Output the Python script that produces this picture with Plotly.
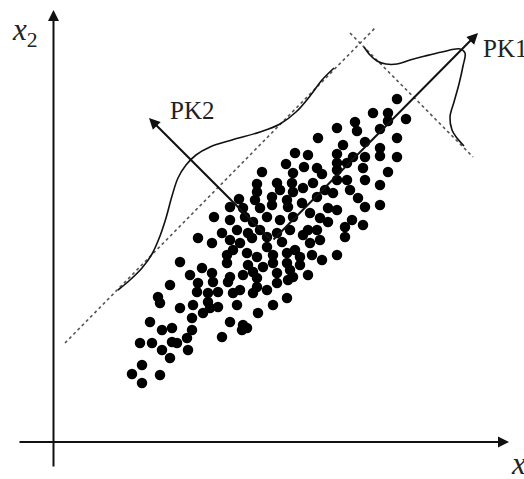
import plotly.graph_objects as go

# Scatter points (pixel-space coordinates; y grows downward)
dot_x1 = [397, 373, 388, 388, 406, 337, 355, 357, 380, 318, 343, 365, 397, 295, 308, 337, 353, 365, 380, 380,
          397, 286, 304, 317, 337, 347, 262, 293, 322, 337, 363, 388, 257, 277, 292, 313, 337, 347, 365, 380,
          257, 280, 293, 303, 325, 350, 358, 239, 255, 272, 287, 317, 333, 380, 230, 243, 260, 272, 288, 302,
          328, 365, 214, 230, 245, 253, 267, 280, 293, 310, 320, 337, 352, 363, 222, 237, 248, 260, 267, 277,
          290, 308, 317, 328, 345, 198, 212, 230, 240, 252, 267, 282, 303, 310, 320, 345, 227, 233, 247, 257,
          273, 287, 295, 300, 312, 322, 337, 180, 202, 227, 248, 263, 273, 287, 290, 300, 190, 212, 230, 243,
          253, 257, 277, 293, 308, 170, 198, 213, 228, 240, 257, 277, 288, 158, 197, 208, 218, 233, 253, 267,
          160, 180, 193, 208, 210, 218, 237, 273, 287, 258, 150, 192, 203, 230, 243, 247, 162, 172, 192, 222,
          242, 140, 152, 172, 177, 187, 162, 188, 170, 142, 132, 160, 142]
dot_x2 = [99, 113, 113, 121, 119, 128, 122, 131, 129, 138, 145, 142, 138, 153, 155, 154, 157, 157, 148, 156,
          157, 164, 167, 168, 163, 163, 172, 173, 174, 170, 168, 172, 184, 183, 183, 183, 180, 180, 180, 185,
          192, 190, 192, 188, 190, 190, 198, 199, 200, 197, 200, 197, 193, 205, 207, 208, 208, 205, 207, 203,
          208, 207, 217, 220, 217, 222, 217, 220, 217, 213, 218, 210, 220, 225, 233, 230, 233, 230, 237, 233,
          230, 230, 230, 222, 227, 238, 243, 240, 243, 238, 247, 242, 235, 243, 240, 237, 255, 250, 253, 257,
          255, 253, 250, 257, 255, 260, 255, 262, 268, 263, 265, 267, 263, 263, 270, 265, 275, 273, 277, 275,
          272, 278, 273, 277, 275, 285, 283, 282, 282, 290, 287, 283, 280, 297, 292, 293, 292, 293, 293, 290,
          303, 308, 305, 302, 308, 307, 305, 305, 298, 313, 322, 318, 313, 322, 325, 328, 330, 328, 330, 337,
          330, 343, 343, 342, 343, 338, 350, 350, 358, 365, 374, 375, 383]

# Density curves
curve1_x1 = [118, 130, 142, 152, 160, 166, 172, 178, 186, 196, 210, 232, 260, 280, 296, 310, 322, 334]
curve1_x2 = [290, 280, 268, 254, 236, 218, 196, 178, 165, 155, 147, 140, 132, 124, 112, 96, 80, 68]
curve2_x1 = [364, 370, 377, 386, 397, 410, 425, 442, 460, 465, 463, 459, 454, 450, 452, 457, 464]
curve2_x2 = [47, 55, 61, 64, 64, 60, 56, 52, 49, 53, 66, 84, 102, 117, 130, 138, 146]

# Dotted guide lines (end points)
guide1_x1 = [65, 375]
guide1_x2 = [343, 28]
guide2_x1 = [350, 473]
guide2_x2 = [33, 157]

# Arrows: (start, tip)
pc_origin = (272, 241)
pk1_tip = (478, 33)
pk2_tip = (149, 118)
xaxis_start, xaxis_tip = (18, 442), (509, 442)
yaxis_start, yaxis_tip = (53.5, 468), (53.5, 10)

fig = go.Figure()
fig.add_trace(go.Scatter(x=guide1_x1, y=guide1_x2, mode="lines",
                         line=dict(color="#555", width=1.6, dash="dot"), hoverinfo="skip"))
fig.add_trace(go.Scatter(x=guide2_x1, y=guide2_x2, mode="lines",
                         line=dict(color="#555", width=1.6, dash="dot"), hoverinfo="skip"))
fig.add_trace(go.Scatter(x=curve1_x1, y=curve1_x2, mode="lines", line_shape="spline",
                         line=dict(color="#111", width=1.6), hoverinfo="skip"))
fig.add_trace(go.Scatter(x=curve2_x1, y=curve2_x2, mode="lines", line_shape="spline",
                         line=dict(color="#111", width=1.6), hoverinfo="skip"))
fig.add_trace(go.Scatter(x=dot_x1, y=dot_x2, mode="markers",
                         marker=dict(color="#000", size=10.5, line=dict(width=0))))

def arrow(start, tip, width=2):
    fig.add_annotation(x=tip[0], y=tip[1], ax=start[0], ay=start[1],
                       xref="x", yref="y", axref="x", ayref="y",
                       showarrow=True, arrowhead=2, arrowsize=1.1,
                       arrowwidth=width, arrowcolor="#111", text="")

arrow(xaxis_start, xaxis_tip)
arrow(yaxis_start, yaxis_tip)
arrow(pc_origin, pk1_tip)
arrow(pc_origin, pk2_tip)

serif = "Liberation Serif"
fig.add_annotation(x=168, y=110, xref="x", yref="y", text="PK2", showarrow=False,
                   xanchor="left", font=dict(family=serif, size=25, color="#222"))
fig.add_annotation(x=481, y=48, xref="x", yref="y", text="PK1", showarrow=False,
                   xanchor="left", font=dict(family=serif, size=25, color="#222"))
fig.add_annotation(x=10, y=32, xref="x", yref="y", text="<i>x</i><sub>2</sub>", showarrow=False,
                   xanchor="left", font=dict(family=serif, size=31, color="#222"))
fig.add_annotation(x=509, y=466, xref="x", yref="y", text="<i>x</i><sub>1</sub>", showarrow=False,
                   xanchor="left", font=dict(family=serif, size=31, color="#222"))

fig.update_layout(width=524, height=479, margin=dict(l=0, r=0, t=0, b=0),
                  paper_bgcolor="white", plot_bgcolor="white", showlegend=False,
                  xaxis=dict(range=[0, 524], visible=False, fixedrange=True),
                  yaxis=dict(range=[479, 0], visible=False, fixedrange=True))

fig.write_html("out.html", config={"displayModeBar": False},
               post_script="document.body.style.margin='0';")
